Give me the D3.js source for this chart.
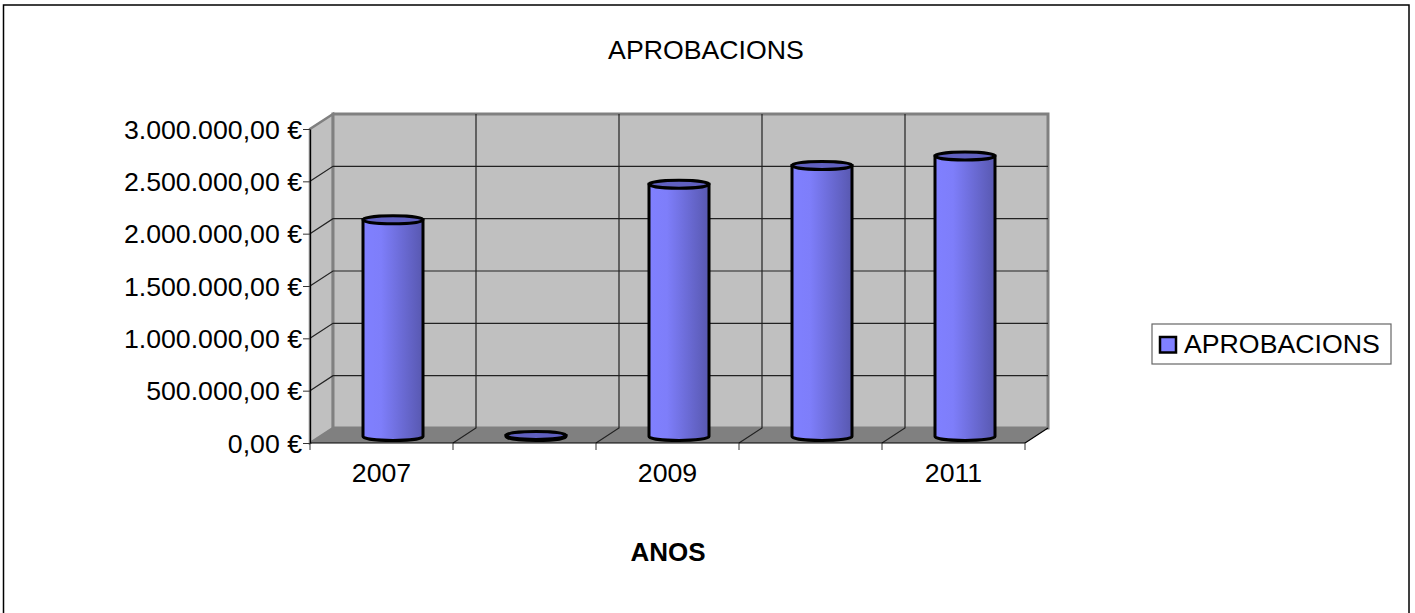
<!DOCTYPE html>
<html>
<head>
<meta charset="utf-8">
<script src="https://cdn.jsdelivr.net/npm/d3@7"></script>
<style>
  html, body { margin: 0; padding: 0; background: #fff; overflow: hidden; }
  svg { display: block; }
  text { font-family: "Liberation Sans", Arial, sans-serif; fill: #000; }
</style>
</head>
<body>
<svg id="chart" width="1415" height="613"></svg>
<script>
const anos = ["2007", "2008", "2009", "2010", "2011"];
const aprobacions = [2070000, 10000, 2410000, 2590000, 2680000];
const yTicks = [0, 500000, 1000000, 1500000, 2000000, 2500000, 3000000];
const xLabels = ["2007", "", "2009", "", "2011"];

const svg = d3.select("#chart");
const fontSize = 26.7;

// marco exterior (o bordo inferior queda fóra do recorte)
svg.append("rect").attr("x", 3.5).attr("y", 5).attr("width", 1405.5).attr("height", 620)
  .attr("fill", "#fff").attr("stroke", "#000").attr("stroke-width", 1.5);

// plano frontal e fondo 3D
const front = { left: 310, right: 1025, top: 129, bottom: 443 };
const depth = { dx: 23, dy: -15 };

const x = d3.scaleBand().domain(anos).range([front.left, front.right]);
const y = d3.scaleLinear().domain([0, 3000000]).range([front.bottom, front.top]);

const defs = svg.append("defs");
const grad = defs.append("linearGradient").attr("id", "cyl");
[[0, "#8080ff"], [0.3, "#7e7efa"], [0.7, "#6868d0"], [1, "#5858b0"]].forEach(([o, c]) =>
  grad.append("stop").attr("offset", o).attr("stop-color", c));

const pts = (a) => a.map((p) => p.join(",")).join(" ");
const L = front.left, R = front.right, T = front.top, B = front.bottom;
const dx = depth.dx, dy = depth.dy;

// parede lateral
svg.append("polygon")
  .attr("points", pts([[L, B], [L + dx, B + dy], [L + dx, T + dy], [L, T]]))
  .attr("fill", "#c0c0c0").attr("stroke", "#808080").attr("stroke-width", 2.5);
// chan
svg.append("polygon")
  .attr("points", pts([[L, B], [L + dx, B + dy], [R + dx, B + dy], [R, B]]))
  .attr("fill", "#808080");
// parede do fondo
svg.append("rect")
  .attr("x", L + dx).attr("y", T + dy).attr("width", R - L).attr("height", B - T)
  .attr("fill", "#c0c0c0").attr("stroke", "#808080").attr("stroke-width", 3);

// liñas de grade
const grid = svg.append("g").attr("stroke", "#222").attr("stroke-width", 1.2).attr("fill", "none");
yTicks.slice(1, -1).forEach((t) => {
  grid.append("polyline")
    .attr("points", pts([[L, y(t)], [L + dx, y(t) + dy], [R + dx, y(t) + dy]]));
});
anos.slice(1).forEach((a) => {
  const xx = x(a);
  grid.append("polyline")
    .attr("points", pts([[xx, B], [xx + dx, B + dy], [xx + dx, T + dy]]));
});
svg.append("line").attr("x1", R).attr("y1", B).attr("x2", R + dx).attr("y2", B + dy)
  .attr("stroke", "#000").attr("stroke-width", 1.2);

// eixos
const fmt = (d) => d3.format(",.2f")(d).replace(/,/g, "#").replace(".", ",").replace(/#/g, ".") + " €";
const yAxis = svg.append("g").attr("transform", `translate(${L},0)`)
  .call(d3.axisLeft(y).tickValues(yTicks).tickFormat(fmt).tickSize(7).tickSizeOuter(0));
yAxis.selectAll("text").attr("font-size", fontSize).attr("x", -8).attr("dy", "0.34em");
yAxis.selectAll("line").attr("stroke", "#333");
yAxis.select(".domain").attr("stroke", "#000").attr("stroke-width", 1.2);

const xAxis = svg.append("g").attr("transform", `translate(0,${B})`)
  .call(d3.axisBottom(x).tickSize(0).tickFormat((d, i) => xLabels[i]));
xAxis.select(".domain").attr("stroke", "#000").attr("stroke-width", 1.2).attr("d", `M${L},0H${R}`);
xAxis.selectAll("text").attr("font-size", fontSize).attr("y", 39).attr("dy", 0);
svg.append("g").selectAll("line").data(anos.concat("fin")).join("line")
  .attr("x1", (d, i) => L + i * x.bandwidth()).attr("x2", (d, i) => L + i * x.bandwidth())
  .attr("y1", B).attr("y2", B + 7).attr("stroke", "#333");

// cilindros
const rx = 30, ry = 4;
const baseY = B + dy / 2 + 1;
const valueH = (v) => y(0) - y(v);
const bars = svg.append("g");
anos.forEach((a, i) => {
  const cx = x(a) + x.bandwidth() / 2 + dx / 2;
  const top = baseY - valueH(aprobacions[i]);
  const g = bars.append("g").attr("stroke", "#000").attr("stroke-width", 3);
  g.append("path")
    .attr("d", `M${cx - rx},${top}V${baseY}A${rx},${ry} 0 0 0 ${cx + rx},${baseY}V${top}Z`)
    .attr("fill", "url(#cyl)");
  g.append("ellipse")
    .attr("cx", cx).attr("cy", top).attr("rx", rx).attr("ry", ry)
    .attr("fill", "#6060c0");
});

// titulos
svg.append("text").attr("x", 706).attr("y", 59).attr("text-anchor", "middle")
  .attr("font-size", fontSize).text("APROBACIONS");
svg.append("text").attr("x", 668).attr("y", 561).attr("text-anchor", "middle")
  .attr("font-size", 26).attr("font-weight", "bold").text("ANOS");

// lenda
const lg = svg.append("g");
lg.append("rect").attr("x", 1152).attr("y", 324).attr("width", 239).attr("height", 40)
  .attr("fill", "#fff").attr("stroke", "#666").attr("stroke-width", 1.2);
lg.append("rect").attr("x", 1160).attr("y", 337).attr("width", 16).attr("height", 15.5)
  .attr("fill", "#8080ff").attr("stroke", "#000").attr("stroke-width", 2.5);
lg.append("text").attr("x", 1184).attr("y", 353).attr("font-size", fontSize).text("APROBACIONS");
</script>
</body>
</html>
